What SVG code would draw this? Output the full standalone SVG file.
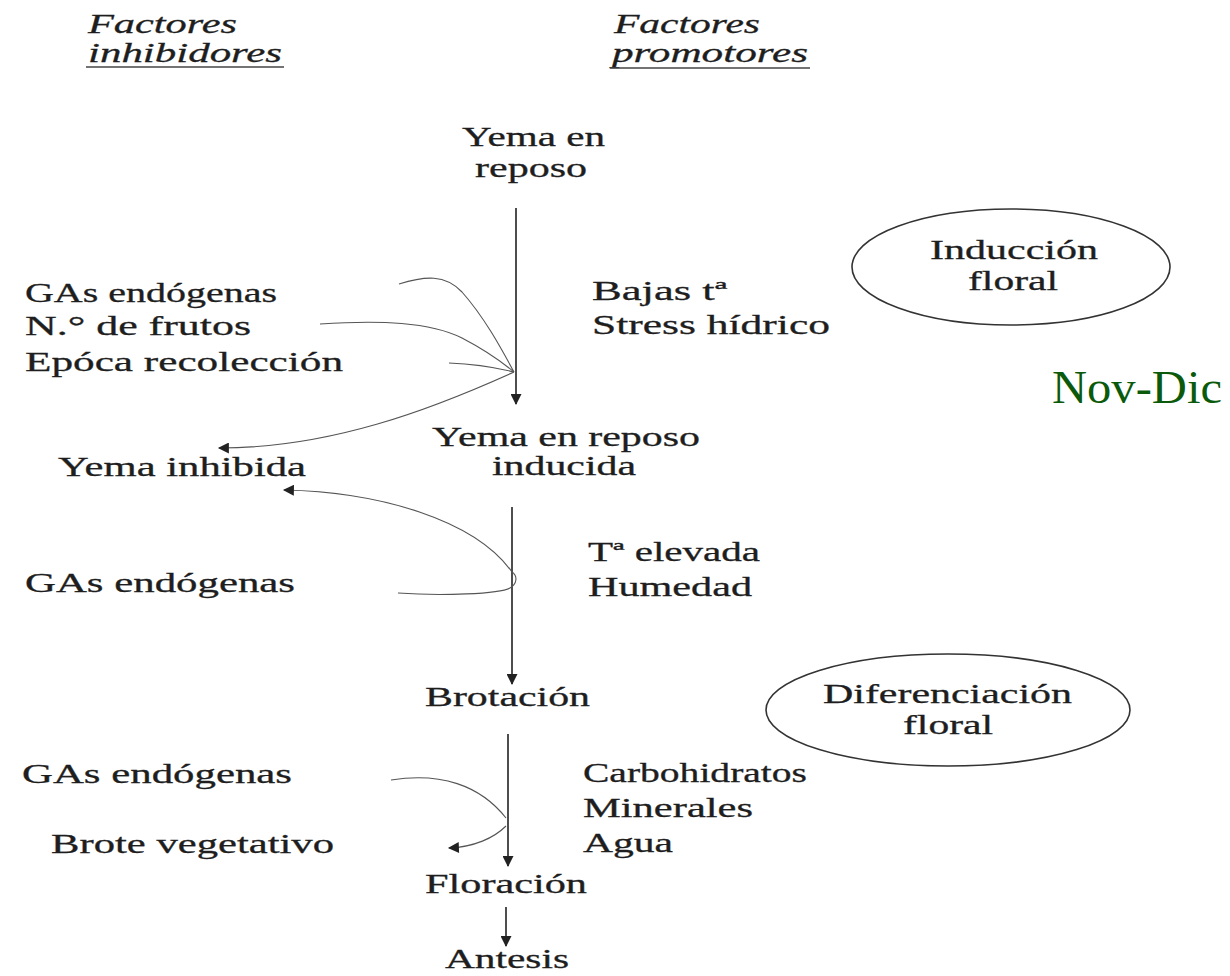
<svg xmlns="http://www.w3.org/2000/svg" width="1230" height="976" viewBox="0 0 1230 976">
<style>
text{font-family:"Liberation Serif","Times New Roman",serif;fill:#1e1e1e;stroke:#1e1e1e;stroke-width:0.3;}
.t{font-size:27px;}
.h{font-size:27px;font-style:italic;}
.nov{font-size:46px;fill:#0b5a0b;stroke:none;}
.main{stroke:#222;stroke-width:1.6;fill:none;}
.curve{stroke:#555;stroke-width:1.1;fill:none;}
.ell{stroke:#333;stroke-width:1.6;fill:none;}
.ul{stroke:#444;stroke-width:1.3;}
</style>
<defs>
<marker id="ah" viewBox="0 0 10 10" refX="9" refY="5" markerWidth="12" markerHeight="11" markerUnits="userSpaceOnUse" orient="auto">
<path d="M0,0 L10,5 L0,10 z" fill="#222"/>
</marker>
</defs>
<rect width="1230" height="976" fill="#fff"/>

<g id="header-inhibidores">
<text class="h" x="88" y="33" textLength="149" lengthAdjust="spacingAndGlyphs">Factores</text>
<text class="h" x="88" y="62" textLength="194" lengthAdjust="spacingAndGlyphs">inhibidores</text>
<line class="ul" x1="86" y1="67" x2="284" y2="67"/>
</g>
<g id="header-promotores">
<text class="h" x="614" y="33" textLength="146" lengthAdjust="spacingAndGlyphs">Factores</text>
<text class="h" x="612" y="62" textLength="196" lengthAdjust="spacingAndGlyphs">promotores</text>
<line class="ul" x1="610" y1="68" x2="810" y2="68"/>
</g>

<g id="yema-reposo">
<text class="t" x="462" y="146" textLength="143" lengthAdjust="spacingAndGlyphs">Yema en</text>
<text class="t" x="475" y="177" textLength="112" lengthAdjust="spacingAndGlyphs">reposo</text>
</g>

<g id="induccion-floral">
<ellipse class="ell" cx="1011" cy="267" rx="159" ry="58"/>
<text class="t" x="930" y="259" textLength="168" lengthAdjust="spacingAndGlyphs">Inducción</text>
<text class="t" x="968" y="290" textLength="90" lengthAdjust="spacingAndGlyphs">floral</text>
</g>

<g id="inhib-1">
<text class="t" x="25" y="302" textLength="252" lengthAdjust="spacingAndGlyphs">GAs endógenas</text>
<text class="t" x="25" y="335" textLength="226" lengthAdjust="spacingAndGlyphs">N.° de frutos</text>
<text class="t" x="25" y="371" textLength="318" lengthAdjust="spacingAndGlyphs">Epóca recolección</text>
</g>

<g id="prom-1">
<text class="t" x="592" y="300" textLength="135" lengthAdjust="spacingAndGlyphs">Bajas tª</text>
<text class="t" x="592" y="334" textLength="238" lengthAdjust="spacingAndGlyphs">Stress hídrico</text>
</g>

<g id="nov-dic">
<text class="nov" x="1052" y="403" textLength="170" lengthAdjust="spacingAndGlyphs">Nov-Dic</text>
</g>

<g id="yema-inducida">
<text class="t" x="432" y="446" textLength="268" lengthAdjust="spacingAndGlyphs">Yema en reposo</text>
<text class="t" x="492" y="475" textLength="144" lengthAdjust="spacingAndGlyphs">inducida</text>
</g>

<g id="yema-inhibida">
<text class="t" x="58" y="476" textLength="248" lengthAdjust="spacingAndGlyphs">Yema inhibida</text>
</g>

<g id="prom-2">
<text class="t" x="588" y="561" textLength="172" lengthAdjust="spacingAndGlyphs">Tª elevada</text>
<text class="t" x="588" y="596" textLength="164" lengthAdjust="spacingAndGlyphs">Humedad</text>
</g>

<g id="inhib-2">
<text class="t" x="25" y="592" textLength="270" lengthAdjust="spacingAndGlyphs">GAs endógenas</text>
</g>

<g id="brotacion">
<text class="t" x="425" y="706" textLength="165" lengthAdjust="spacingAndGlyphs">Brotación</text>
</g>

<g id="diferenciacion-floral">
<ellipse class="ell" cx="948" cy="710" rx="182" ry="56"/>
<text class="t" x="823" y="703" textLength="249" lengthAdjust="spacingAndGlyphs">Diferenciación</text>
<text class="t" x="903" y="734" textLength="90" lengthAdjust="spacingAndGlyphs">floral</text>
</g>

<g id="inhib-3">
<text class="t" x="22" y="783" textLength="270" lengthAdjust="spacingAndGlyphs">GAs endógenas</text>
</g>

<g id="brote-vegetativo">
<text class="t" x="51" y="853" textLength="283" lengthAdjust="spacingAndGlyphs">Brote vegetativo</text>
</g>

<g id="prom-3">
<text class="t" x="583" y="782" textLength="224" lengthAdjust="spacingAndGlyphs">Carbohidratos</text>
<text class="t" x="583" y="817" textLength="170" lengthAdjust="spacingAndGlyphs">Minerales</text>
<text class="t" x="583" y="852" textLength="90" lengthAdjust="spacingAndGlyphs">Agua</text>
</g>

<g id="floracion">
<text class="t" x="425" y="893" textLength="162" lengthAdjust="spacingAndGlyphs">Floración</text>
</g>

<g id="antesis">
<text class="t" x="445" y="968" textLength="124" lengthAdjust="spacingAndGlyphs">Antesis</text>
</g>

<g id="connectors">
<line class="main" x1="516" y1="208" x2="516" y2="404" marker-end="url(#ah)"/>
<path class="curve" d="M399,284 C425,276 445,274 462,292 C485,318 502,350 514,372"/>
<path class="curve" d="M320,324 C380,320 430,322 462,338 C485,350 502,362 514,372"/>
<path class="curve" d="M449,363 C475,364 498,368 514,372"/>
<path class="curve" d="M514,372 C430,410 330,448 219,448" marker-end="url(#ah)"/>

<line class="main" x1="512" y1="507" x2="512" y2="684" marker-end="url(#ah)"/>
<path class="curve" d="M512,572 C475,520 380,492 284,490" marker-end="url(#ah)"/>
<path class="curve" d="M398,593 C440,596 500,594 510,588 C517,584 518,576 512,572"/>

<line class="main" x1="508" y1="734" x2="508" y2="866" marker-end="url(#ah)"/>
<path class="curve" d="M391,780 C440,772 480,785 506,818"/>
<path class="curve" d="M506,826 C494,838 474,847 449,848" marker-end="url(#ah)"/>

<line class="main" x1="506" y1="907" x2="506" y2="946" marker-end="url(#ah)"/>
</g>
</svg>
